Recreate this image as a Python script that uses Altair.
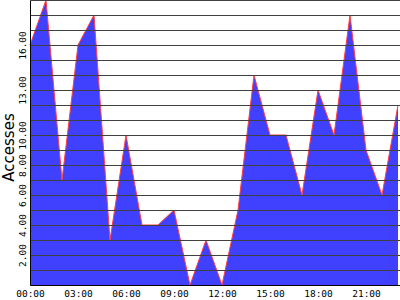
import altair as alt
import pandas as pd

hours = list(range(24))
accesses = [16, 19, 7, 16, 18, 3, 10, 4, 4, 5, 0, 3, 0, 5, 14, 10, 10, 6, 13, 10, 18, 9, 6, 12]
x_ticks = [0, 3, 6, 9, 12, 15, 18, 21]
y_labelled = [2, 4, 6, 8, 10, 13, 16]
y_grid = list(range(0, 20))

df = pd.DataFrame({"hour": hours, "accesses": accesses})

x = alt.X("hour:Q", scale=alt.Scale(domain=[0, 23.125], nice=False, zero=False),
          axis=alt.Axis(values=x_ticks, grid=False, ticks=False, domainColor="black",
                        labelExpr="(datum.value < 10 ? '0' : '') + datum.value + ':00'",
                        labelFont="DejaVu Sans Mono", labelFontSize=9.5, labelColor="black",
                        labelPadding=3, labelFlush=False, title=None, zindex=1))
y = alt.Y("accesses:Q", scale=alt.Scale(domain=[0, 19], nice=False),
          axis=alt.Axis(values=y_grid, grid=True, gridColor="#404040", gridOpacity=1,
                        gridWidth=1, ticks=False, domainColor="black",
                        labelExpr="indexof([2,4,6,8,10,13,16], datum.value) >= 0 ? format(datum.value, '.2f') : ''",
                        labelFont="DejaVu Sans Mono", labelFontSize=9.5, labelColor="black",
                        labelAngle=270, labelAlign="center", labelBaseline="bottom",
                        labelPadding=3, labelFlush=False,
                        title="Accesses", titleFont="DejaVu Sans", titleFontSize=15,
                        titleFontWeight="normal", titleColor="black", titlePadding=1,
                        titleY=147, zindex=1))

area = alt.Chart(df).mark_area(color="#4040ff", opacity=1, interpolate="linear").encode(x=x, y=y)
line = alt.Chart(df).mark_line(color="#ff4040", strokeWidth=1, interpolate="linear").encode(x=x, y=y)

chart = alt.layer(area, line).properties(
    width=370, height=285,
    autosize=alt.AutoSizeParams(type="none"),
    padding={"left": 30, "top": 0, "right": 0, "bottom": 15},
    background="white",
).configure_view(stroke=None)

chart.save("out.html", embed_options={"renderer": "svg", "actions": False})
